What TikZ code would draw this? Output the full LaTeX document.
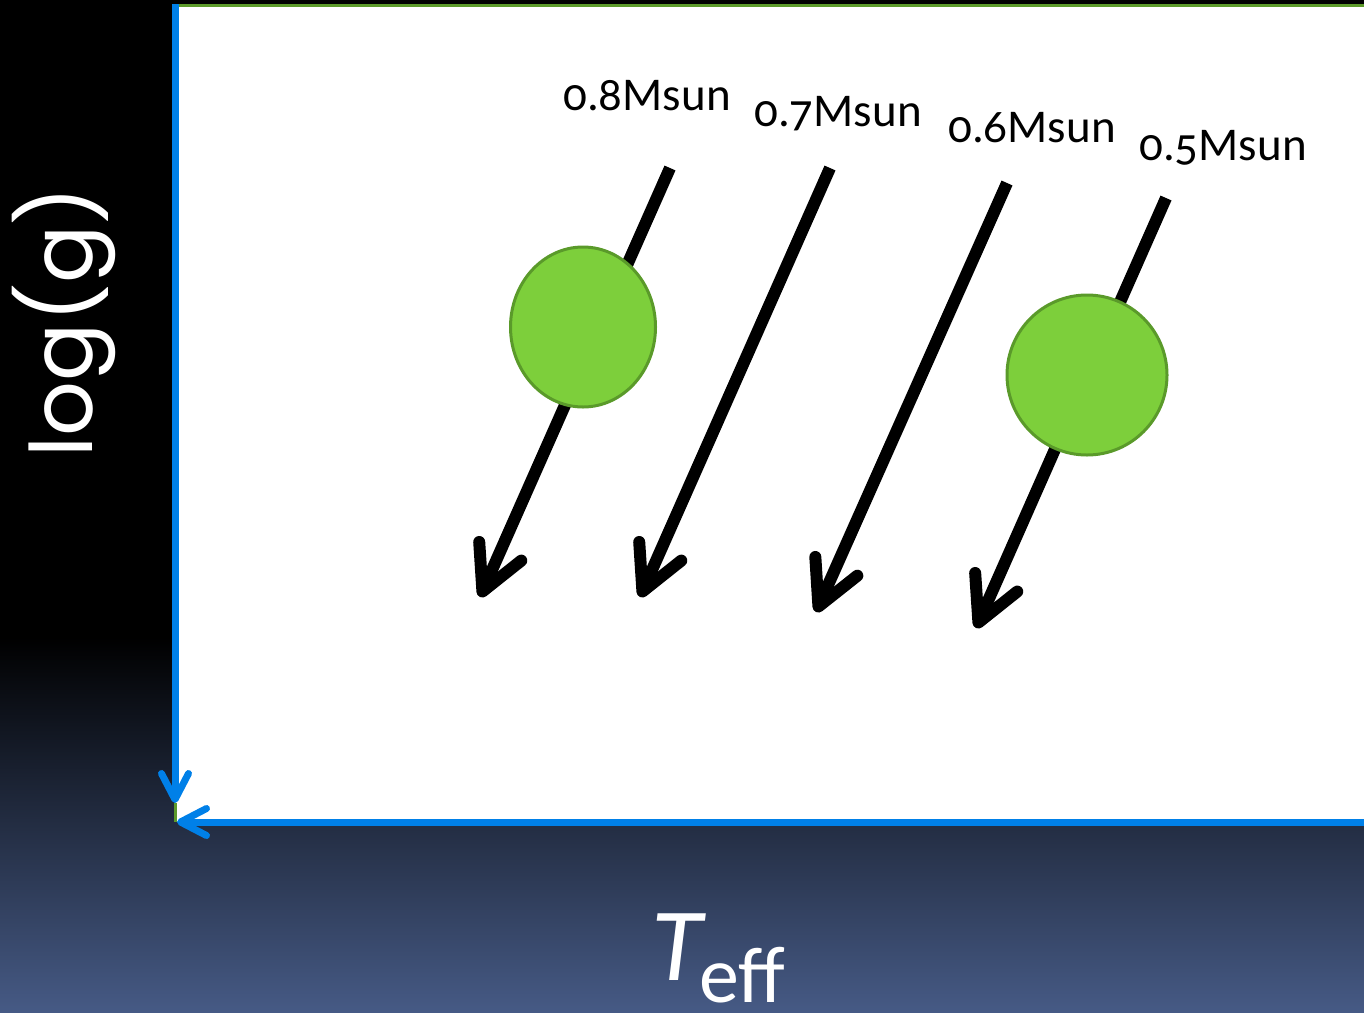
\documentclass[tikz,border=0pt]{standalone}
\usepackage{fontspec}
\setmainfont{Carlito}[Numbers=OldStyle]
\newfontfamily\axisfont{Poppins}
\usetikzlibrary{arrows.meta,shapes.geometric}
\definecolor{axisblue}{RGB}{0,128,232}
\definecolor{topgreen}{RGB}{92,154,42}
\definecolor{dotfill}{RGB}{125,207,59}
\definecolor{dotedge}{RGB}{90,154,42}
\definecolor{bgbottom}{RGB}{70,90,133}
\tikzset{
  track/.style={line width=12pt, -{Straight Barb[length=44pt,width=46pt,round]}},
  axisline/.style={axisblue, line width=7pt, -{Straight Barb[length=26pt,width=27pt,round]}},
  dot/.style={fill=dotfill, draw=dotedge, line width=3pt, inner sep=0pt},
  masslabel/.style={font=\fontsize{47}{50}\selectfont, anchor=base, inner sep=0pt},
}
\begin{document}
\begin{tikzpicture}[x=1pt,y=-1pt]
\useasboundingbox (0,0) rectangle (1364,1012);
\clip (0,0) rectangle (1364,1012);
% background
\fill[black] (0,0) rectangle (1364,640);
\shade[top color=black, bottom color=bgbottom] (0,637) rectangle (1364,1012);
% plot area
\fill[white] (175,7) rectangle (1364,822);
\coordinate (gl) at (172,5.5);
\coordinate (gr) at (1364,5.5);
\draw[topgreen, line width=3pt] (gl) -- (gr);
% mass tracks
\coordinate (a1s) at (670,168); \coordinate (a1e) at (480,597);
\coordinate (a2s) at (830,168); \coordinate (a2e) at (640,597);
\coordinate (a3s) at (1007,183); \coordinate (a3e) at (816,612);
\coordinate (a4s) at (1166,198); \coordinate (a4e) at (976,628);
\draw[track] (a1s) -- (a1e);
\draw[track] (a2s) -- (a2e);
\draw[track] (a3s) -- (a3e);
\draw[track] (a4s) -- (a4e);
% stars
\node[dot, ellipse, minimum width=145pt, minimum height=160pt] (s1) at (583,327) {};
\node[dot, circle, minimum size=160pt] (s2) at (1087,375) {};
% labels
\node[masslabel] (l1) at (647,110) {0.8Msun};
\node[masslabel] (l2) at (838,126) {0.7Msun};
\node[masslabel] (l3) at (1032,142) {0.6Msun};
\node[masslabel] (l4) at (1223,160) {0.5Msun};
% axes
\coordinate (ytop) at (175,4);
\coordinate (ytip) at (175,803);
\coordinate (xend) at (1370,822);
\coordinate (xtip) at (177,822);
\draw[topgreen, line width=3pt] (ytip) -- (175,822);
\draw[axisline] (ytop) -- (ytip);
\draw[axisline] (xend) -- (xtip);
% axis titles
\node[white, rotate=90, inner sep=0pt, font=\axisfont\fontsize{86}{96}\selectfont] (ylab) at (64,322) {log(g)};
\node[white, anchor=base, inner sep=0pt, font=\fontsize{104}{110}\selectfont\itshape] (tT) at (677,980) {T};
\node[white, anchor=base west, inner sep=0pt, font=\fontsize{80}{88}\selectfont] (teff) at (699,1002) {e{}f{}f};
\end{tikzpicture}
\end{document}
